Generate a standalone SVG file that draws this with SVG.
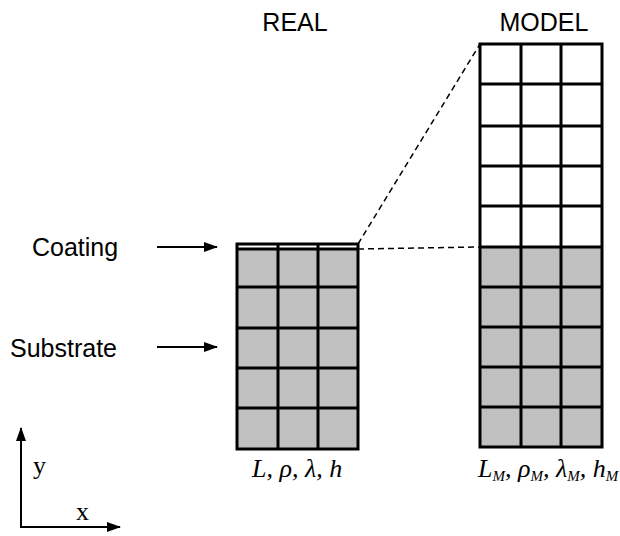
<svg xmlns="http://www.w3.org/2000/svg" width="620" height="536" viewBox="0 0 620 536">
<style>
.lbl{font-family:"Liberation Sans",Arial,sans-serif;font-size:25px;fill:#000}
.math{font-family:"Liberation Serif","Times New Roman",serif;font-style:italic;font-size:26px;fill:#000}
.rm{font-family:"Liberation Serif","Times New Roman",serif;font-size:26px;fill:#000}
.sub{font-size:15px}
.grid{stroke:#000;stroke-width:3;fill:none;stroke-linecap:square}
.arr{stroke:#000;stroke-width:2;fill:none}
.dash{stroke:#000;stroke-width:1.5;stroke-dasharray:6,4;fill:none}
</style>
<defs>
<marker id="ah" viewBox="0 0 14 10" refX="13" refY="5" markerWidth="14" markerHeight="10" markerUnits="userSpaceOnUse" orient="auto">
<path d="M0,0 L14,5 L0,10 z" fill="#000"/>
</marker>
</defs>
<g id="titles">
<text class="lbl" x="295" y="31" text-anchor="middle">REAL</text>
<text class="lbl" x="544" y="31" text-anchor="middle">MODEL</text>
</g>
<g id="real">
<rect x="237" y="249" width="121" height="200" fill="#c0c0c0"/>
<path class="grid" d="M237,244 H358 V449 H237 Z M237,249 H358 M237,287 H358 M237,328 H358 M237,368 H358 M237,408 H358 M278,244 V449 M318,244 V449"/>
</g>
<g id="model">
<rect x="480" y="247" width="122" height="200" fill="#c0c0c0"/>
<path class="grid" d="M480,44 H602 V447 H480 Z M480,84 H602 M480,126 H602 M480,166 H602 M480,206 H602 M480,247 H602 M480,287 H602 M480,327 H602 M480,367 H602 M480,407 H602 M521,44 V447 M561,44 V447"/>
</g>
<g id="labels">
<text class="lbl" x="32" y="256">Coating</text>
<text class="lbl" x="10" y="357">Substrate</text>
<text class="math" x="252" y="477">L, ρ, λ, h</text>
<text class="math" x="478" y="477">L<tspan class="sub" dy="4">M</tspan><tspan dy="-4">, ρ</tspan><tspan class="sub" dy="4">M</tspan><tspan dy="-4">, λ</tspan><tspan class="sub" dy="4">M</tspan><tspan dy="-4">, h</tspan><tspan class="sub" dy="4">M</tspan></text>
<text class="rm" x="33" y="474">y</text>
<text class="rm" x="76" y="520">x</text>
</g>
<g id="connectors">
<line class="arr" x1="157" y1="247" x2="217" y2="247" marker-end="url(#ah)"/>
<line class="arr" x1="157" y1="347" x2="217" y2="347" marker-end="url(#ah)"/>
<line class="dash" x1="358" y1="244" x2="480" y2="44"/>
<line class="dash" x1="358" y1="249" x2="480" y2="247"/>
<line class="arr" x1="21" y1="527" x2="21" y2="428" marker-end="url(#ah)"/>
<line class="arr" x1="20" y1="527" x2="120" y2="527" marker-end="url(#ah)"/>
</g>
</svg>
